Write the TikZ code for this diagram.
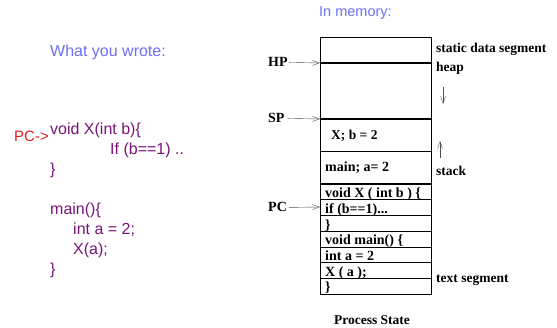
\documentclass[tikz,border=0pt]{standalone}
\usepackage{fontspec}
\setmainfont{Liberation Serif}
\newfontfamily\slidefont{Liberation Sans}
\usetikzlibrary{arrows.meta}
\definecolor{codepurple}{RGB}{120,20,120}
\definecolor{titleblue}{RGB}{110,110,250}
\definecolor{pcred}{RGB}{225,30,30}
\definecolor{ptrgray}{RGB}{80,80,80}

\begin{document}
\begin{tikzpicture}[x=1pt, y=-1pt,
    every node/.style={anchor=base west, inner sep=0pt},
    code/.style={text=codepurple, font=\slidefont\fontsize{16}{18}\selectfont},
    heading/.style={text=titleblue, font=\slidefont\fontsize{15}{17}\selectfont},
    mem/.style={font=\bfseries\fontsize{13.5}{15}\selectfont},
    row/.style={font=\bfseries\fontsize{14}{16}\selectfont},
    ptr/.style={draw=ptrgray, thin, -{Straight Barb[length=7pt, width=5pt]}}]
    \useasboundingbox (0,0) rectangle (557,328);
    % source code
    \node [heading, font=\slidefont\fontsize{16}{18}\selectfont] (wrote) at (50,57) {What you wrote:};
    \node [text=pcred, font=\slidefont\fontsize{15}{17}\selectfont] (pcsrc) at (14,142) {PC->};
    \node [code] (l1) at (50,135) {void X(int b)\{};
    \node [code] (l2) at (110,155) {If (b==1) ..};
    \node [code] (l3) at (50,175) {\}};
    \node [code] (l4) at (50,215) {main()\{};
    \node [code] (l5) at (73,235) {int a = 2;};
    \node [code] (l6) at (73,255) {X(a);};
    \node [code] (l7) at (50,275) {\}};
    % memory
    \node [heading, font=\slidefont\fontsize{14.5}{16}\selectfont] (inmem) at (319,17) {In memory:};
    \draw (320,37) rectangle (431,294);
    \draw [line width=1.3pt] (320,63) -- (431,63);
    \draw [line width=1.3pt] (320,119) -- (431,119);
    \draw (320,151) -- (431,151);
    \draw [line width=1.3pt] (320,184) -- (431,184);
    \foreach \k in {1,...,6}
      \draw (320,184+15.7*\k) -- (431,184+15.7*\k);
    \node [mem] (frameX) at (331,140) {X; b = 2};
    \node [row] (frameMain) at (325,172) {main; a= 2};
    \node [row] (t1) at (325,197.8) {void X ( int b ) \{};
    \node [row] (t2) at (325,213.5) {if (b==1)...};
    \node [row] (t3) at (325,229.2) {\}};
    \node [row] (t4) at (325,244.9) {void main() \{};
    \node [row] (t5) at (325,260.6) {int a = 2};
    \node [row] (t6) at (325,276.3) {X ( a );};
    \node [row] (t7) at (325,292) {\}};
    % segment names
    \node [mem] (static) at (436,53) {static data segment};
    \node [mem] (heap) at (436,72) {heap};
    \node [mem] (stack) at (436,176) {stack};
    \node [mem] (text) at (436,283) {text segment};
    \coordinate (heapA) at (443,87);
    \coordinate (heapB) at (443,104);
    \coordinate (stackA) at (440,158);
    \coordinate (stackB) at (440,141);
    \draw [ptr] (heapA) -- (heapB);
    \draw [ptr] (stackA) -- (stackB);
    % pointers
    \node [mem, font=\bfseries\fontsize{14}{16}\selectfont] (hp) at (268,67) {HP};
    \node [mem, font=\bfseries\fontsize{14}{16}\selectfont] (sp) at (268,123) {SP};
    \node [mem, font=\bfseries\fontsize{14}{16}\selectfont] (pc) at (268,212) {PC};
    \coordinate (hpin) at (320,63);
    \coordinate (spin) at (320,119);
    \coordinate (pcin) at (320,207);
    \draw [ptr] (hp.east) ++(1,0) -- (hpin);
    \draw [ptr] (sp.east) ++(3,0) -- (spin);
    \draw [ptr] (pc.east) ++(2,0) -- (pcin);
    \node [mem, anchor=base] (state) at (372,325) {Process State};
\end{tikzpicture}
\end{document}
